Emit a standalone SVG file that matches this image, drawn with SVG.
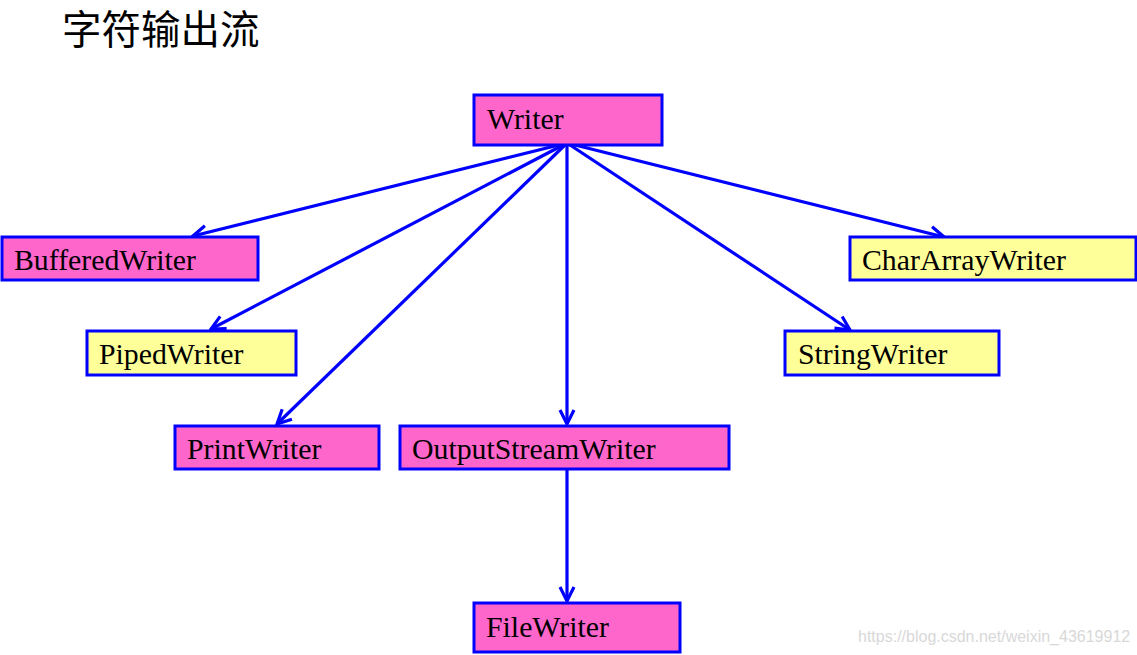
<svg xmlns="http://www.w3.org/2000/svg" width="1137" height="655" viewBox="0 0 1137 655">
<defs>
<marker id="arr" viewBox="0 0 20 20" refX="18" refY="10" markerWidth="20" markerHeight="20" markerUnits="userSpaceOnUse" orient="auto">
<path d="M4,3 L18,10 L4,17" fill="none" stroke="#0000FF" stroke-width="3.2"/>
</marker>
<style>
.box{stroke:#0000FF;stroke-width:3}
.pink{fill:#FF66CC}
.yellow{fill:#FFFF99}
.lbl{font-family:"Liberation Serif","Times New Roman",serif;font-size:29.8px;fill:#000}
.edge{stroke:#0000FF;stroke-width:3.2;fill:none;marker-end:url(#arr)}
</style>
</defs>
<rect width="1137" height="655" fill="#FFFFFF"/>
<text x="62" y="44" font-family="'Noto Sans CJK SC',sans-serif" font-size="39.5" fill="#000">字符输出流</text>
<g id="connectors">
<line class="edge" x1="567" y1="143" x2="193" y2="236"/>
<line class="edge" x1="567" y1="143" x2="211" y2="329"/>
<line class="edge" x1="567" y1="143" x2="277" y2="424"/>
<line class="edge" x1="567" y1="143" x2="567" y2="424"/>
<line class="edge" x1="567" y1="143" x2="850" y2="330"/>
<line class="edge" x1="567" y1="143" x2="944" y2="237"/>
<line class="edge" x1="567" y1="470" x2="567" y2="601"/>
</g>
<g id="writer"><rect class="box pink" x="474" y="95" width="188" height="50"/><text class="lbl" x="487" y="129">Writer</text></g>
<g id="bufferedwriter"><rect class="box pink" x="2" y="237" width="256" height="43"/><text class="lbl" x="14" y="270">BufferedWriter</text></g>
<g id="chararraywriter"><rect class="box yellow" x="850" y="237" width="286" height="43"/><text class="lbl" x="862" y="270">CharArrayWriter</text></g>
<g id="pipedwriter"><rect class="box yellow" x="87" y="331" width="209" height="44"/><text class="lbl" x="99" y="364">PipedWriter</text></g>
<g id="stringwriter"><rect class="box yellow" x="785" y="331" width="214" height="44"/><text class="lbl" x="798" y="364">StringWriter</text></g>
<g id="printwriter"><rect class="box pink" x="175" y="426" width="204" height="43"/><text class="lbl" x="187" y="459">PrintWriter</text></g>
<g id="outputstreamwriter"><rect class="box pink" x="400" y="426" width="329" height="43"/><text class="lbl" x="412" y="459">OutputStreamWriter</text></g>
<g id="filewriter"><rect class="box pink" x="474" y="603" width="206" height="49"/><text class="lbl" x="486" y="637">FileWriter</text></g>
<text x="858" y="642" font-family="'Liberation Sans',Arial,sans-serif" font-size="16" fill="#D8D8D8">https://blog.csdn.net/weixin_43619912</text>
</svg>
